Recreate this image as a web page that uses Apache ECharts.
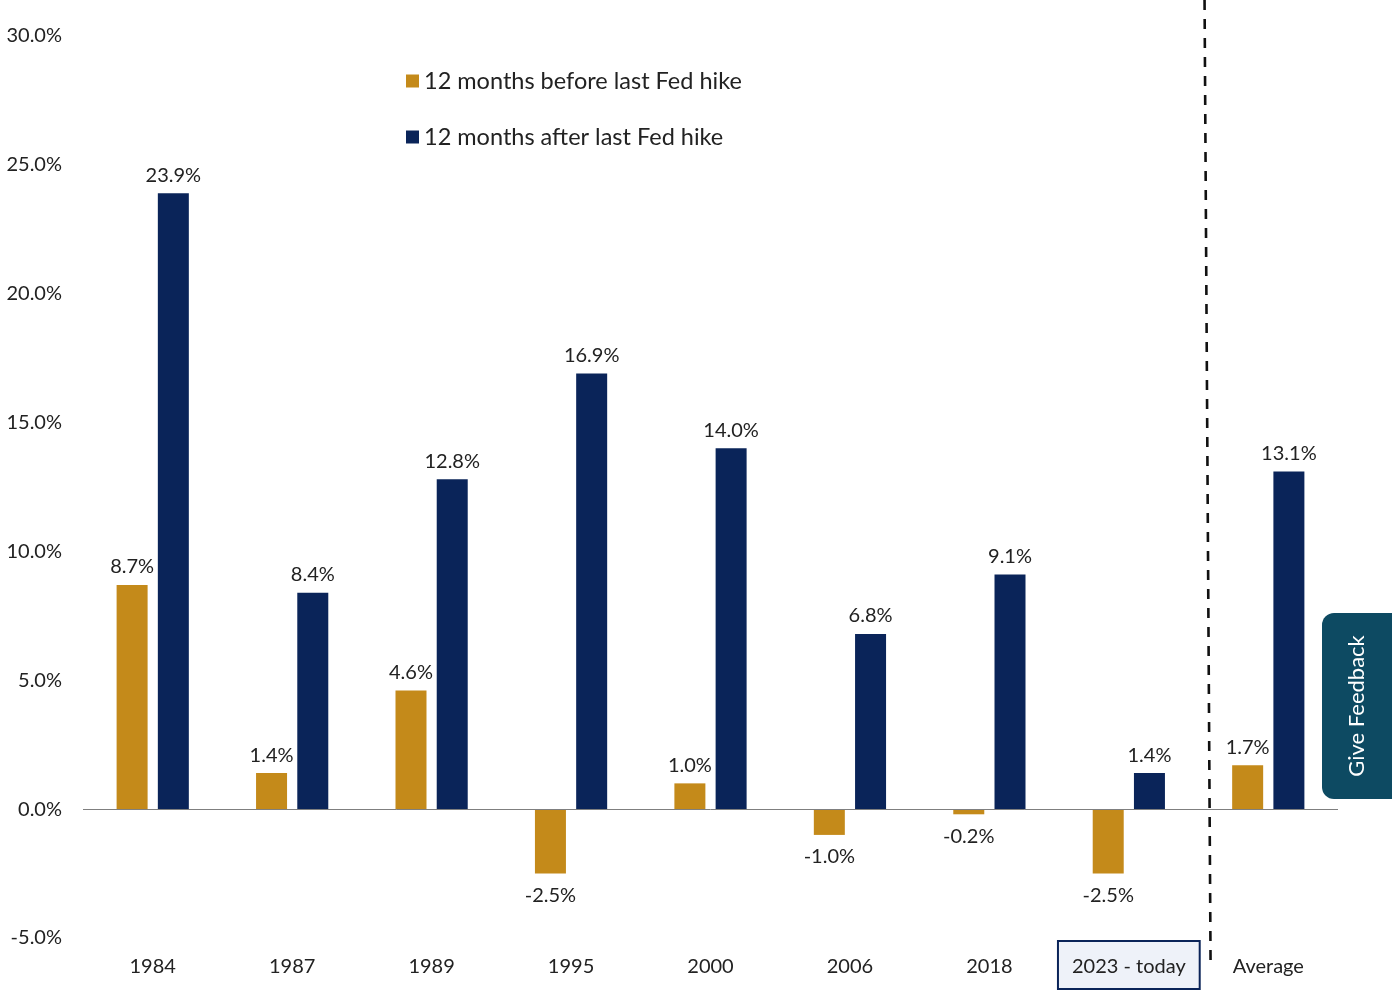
<!DOCTYPE html>
<html>
<head>
<meta charset="utf-8">
<script src="https://cdn.jsdelivr.net/npm/echarts@6/dist/echarts.min.js"></script>
<style>
html,body{margin:0;padding:0;background:#fff;}
#main{width:1392px;height:990px;}
</style>
</head>
<body>
<div id="main"></div>
<script>
const categories = ['1984','1987','1989','1995','2000','2006','2018','2023 - today','Average'];
const beforeHike = [8.7, 1.4, 4.6, -2.5, 1.0, -1.0, -0.2, -2.5, 1.7];
const afterHike = [23.9, 8.4, 12.8, 16.9, 14.0, 6.8, 9.1, 1.4, 13.1];
const seriesNames = ['12 months before last Fed hike', '12 months after last Fed hike'];
const yTicks = [-5, 0, 5, 10, 15, 20, 25, 30];

const GOLD = '#C48A1A';
const NAVY = '#0A2459';
const FONT = 'Lato';
const TXT = '#222';

function mkData(arr) {
  return arr.map(v => ({
    value: v,
    label: v < 0 ? { position: 'bottom', distance: 12 } : { position: 'top', distance: 8 }
  }));
}

const chart = echarts.init(document.getElementById('main'));
const option = {
  backgroundColor: '#ffffff',
  animation: false,
  textStyle: { fontFamily: FONT },
  grid: { left: 83, right: 54, top: 36, bottom: 50 },
  legend: {
    orient: 'vertical',
    left: 401,
    top: 64,
    itemWidth: 13,
    itemHeight: 13,
    itemGap: 32,
    icon: 'rect',
    textStyle: { fontFamily: FONT, fontSize: 23.5, color: TXT },
    data: seriesNames
  },
  xAxis: {
    type: 'category',
    data: categories,
    axisLine: { show: false, onZero: false },
    axisTick: { show: false },
    axisLabel: {
      margin: 4,
      interval: 0,
      fontFamily: FONT,
      fontSize: 20,
      color: TXT,
      formatter: function (v) {
        return v === '2023 - today' ? '{box|' + v + '}' : '{a|' + v + '}';
      },
      rich: {
        a: { fontFamily: FONT, fontSize: 20, color: TXT, padding: [15, 10, 11, 10] },
        box: {
          fontFamily: FONT, fontSize: 20, color: TXT,
          padding: [15, 13, 11, 13],
          borderColor: NAVY, borderWidth: 2,
          backgroundColor: '#EEF2F9'
        }
      }
    }
  },
  yAxis: {
    type: 'value',
    min: -5,
    max: 30,
    interval: 5,
    axisLine: { show: false },
    axisTick: { show: false },
    splitLine: { show: false },
    axisLabel: {
      margin: 21,
      fontFamily: FONT,
      fontSize: 20,
      color: TXT,
      formatter: v => v.toFixed(1) + '%'
    }
  },
  series: [
    {
      name: seriesNames[0],
      type: 'bar',
      data: mkData(beforeHike),
      barWidth: 31,
      barGap: '33%',
      itemStyle: { color: GOLD },
      label: {
        show: true,
        fontFamily: FONT,
        fontSize: 20,
        color: TXT,
        formatter: p => p.value.toFixed(1) + '%'
      },
      markLine: {
        silent: true,
        symbol: 'none',
        label: { show: false },
        lineStyle: { color: '#7f7f7f', width: 1, type: 'solid' },
        data: [{ yAxis: 0 }]
      }
    },
    {
      name: seriesNames[1],
      type: 'bar',
      data: mkData(afterHike),
      barWidth: 31,
      itemStyle: { color: NAVY },
      label: {
        show: true,
        fontFamily: FONT,
        fontSize: 20,
        color: TXT,
        formatter: p => p.value.toFixed(1) + '%'
      }
    }
  ]
};
option.color = [GOLD, NAVY];
chart.setOption(option);

const x7 = chart.convertToPixel({ xAxisIndex: 0 }, categories[7]);
const x8 = chart.convertToPixel({ xAxisIndex: 0 }, categories[8]);
const mid = (x7 + x8) / 2;

chart.setOption({
  graphic: [
    {
      type: 'line',
      silent: true,
      z: 10,
      shape: { x1: mid + 6, y1: 0, x2: mid + 12, y2: 962 },
      style: { stroke: '#111', lineWidth: 2.6, lineDash: [10, 9] }
    },
    {
      type: 'group',
      right: 0,
      top: 613,
      children: [
        {
          type: 'rect',
          shape: { x: 0, y: 0, width: 70, height: 186, r: [12, 0, 0, 12] },
          style: { fill: '#0D4A62' }
        },
        {
          type: 'text',
          x: 35,
          y: 93,
          rotation: Math.PI / 2,
          style: {
            text: 'Give Feedback',
            fill: '#ffffff',
            fontFamily: FONT,
            fontSize: 22,
            align: 'center',
            verticalAlign: 'middle'
          }
        }
      ]
    }
  ]
});
</script>
</body>
</html>
